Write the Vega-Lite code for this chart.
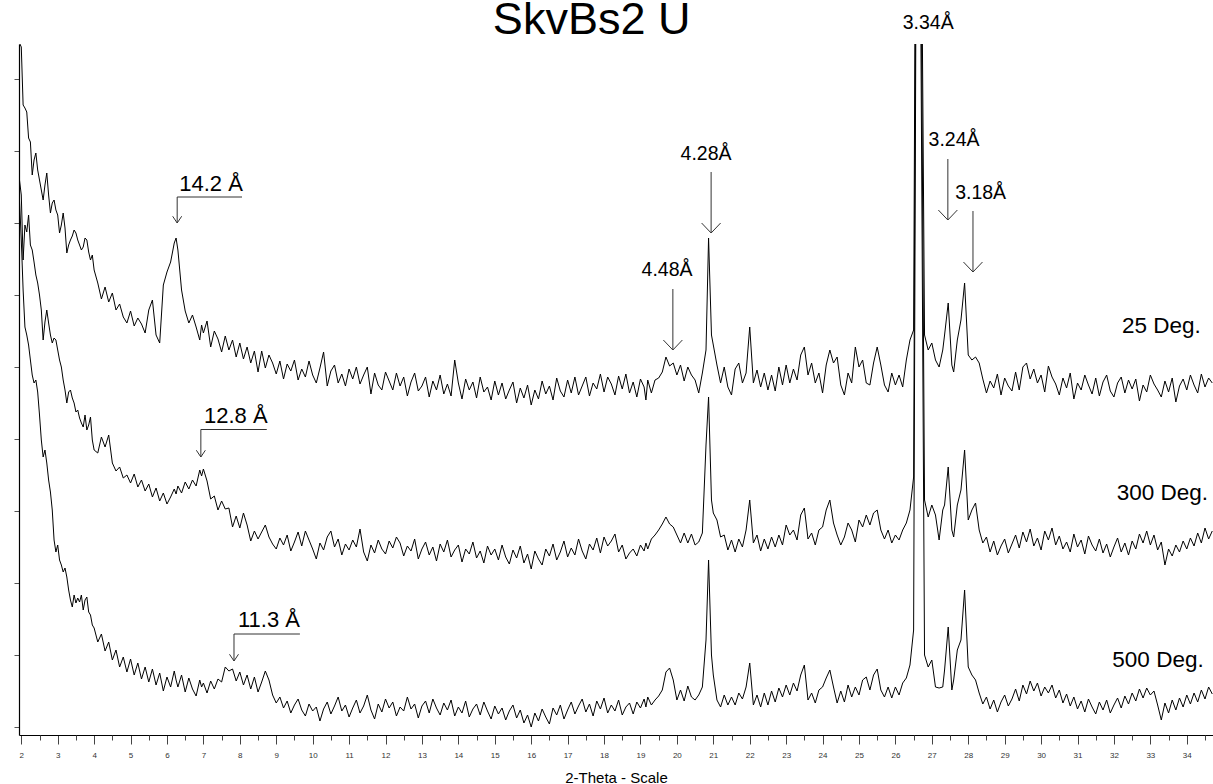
{
"$schema":"https://vega.github.io/schema/vega-lite/v6.json",
"width":1194,"height":691,"autosize":"none",
"padding":{"left":19,"top":44,"right":0,"bottom":49},
"background":"white",
"config":{"view":{"stroke":null},"font":"Liberation Sans"},
"datasets":{
"xrd":[
{"x":1.95,"a":692,"b":555,"c":535},{"x":2.0,"a":688,"b":540,"c":495},{"x":2.05,"a":630,"b":475,"c":445},{"x":2.1,"a":627,"b":510,"c":408},{"x":2.15,"a":623,"b":503,"c":400},{"x":2.2,"a":597,"b":520,"c":390},{"x":2.25,"a":593,"b":490,"c":375},{"x":2.3,"a":560,"b":485,"c":360},{"x":2.35,"a":575,"b":473,"c":352},{"x":2.4,"a":582,"b":460,"c":355},{"x":2.45,"a":565,"b":452,"c":343},{"x":2.5,"a":555,"b":440,"c":320},{"x":2.55,"a":545,"b":425,"c":295},{"x":2.6,"a":535,"b":395,"c":278},{"x":2.65,"a":550,"b":413,"c":285},{"x":2.7,"a":562,"b":425,"c":272},{"x":2.75,"a":540,"b":412,"c":255},{"x":2.8,"a":522,"b":400,"c":243},{"x":2.85,"a":532,"b":392,"c":225},{"x":2.9,"a":535,"b":397,"c":195},{"x":2.95,"a":525,"b":395,"c":183},{"x":3.0,"a":520,"b":385,"c":190},{"x":3.05,"a":502,"b":375,"c":175},{"x":3.1,"a":510,"b":368,"c":170},{"x":3.15,"a":522,"b":355,"c":163},{"x":3.2,"a":507,"b":345,"c":167},{"x":3.25,"a":482,"b":332,"c":158},{"x":3.3,"a":490,"b":343,"c":145},{"x":3.35,"a":495,"b":345,"c":135},{"x":3.4,"a":499,"b":337,"c":128},{"x":3.45,"a":505,"b":332,"c":140},{"x":3.5,"a":502,"b":323,"c":132},{"x":3.55,"a":495,"b":325,"c":137},{"x":3.6,"a":490,"b":317,"c":133},{"x":3.65,"a":485,"b":312,"c":140},{"x":3.7,"a":488,"b":308,"c":125},{"x":3.75,"a":497,"b":320,"c":135},{"x":3.8,"a":495,"b":305,"c":138},{"x":3.85,"a":483,"b":310,"c":123},{"x":3.9,"a":475,"b":318,"c":120},{"x":3.95,"a":480,"b":295,"c":110},
{"x":4.0,"a":465,"b":285,"c":107},{"x":4.1,"a":452,"b":282,"c":93},{"x":4.2,"a":436,"b":298,"c":101},{"x":4.3,"a":448,"b":288,"c":84},{"x":4.4,"a":433,"b":300,"c":93},{"x":4.5,"a":442,"b":272,"c":75},{"x":4.6,"a":425,"b":264,"c":85},{"x":4.7,"a":431,"b":268,"c":68},{"x":4.8,"a":418,"b":257,"c":78},{"x":4.9,"a":412,"b":260,"c":63},
{"x":5.0,"a":424,"b":252,"c":76},{"x":5.1,"a":409,"b":261,"c":60},{"x":5.2,"a":417,"b":248,"c":72},{"x":5.3,"a":411,"b":255,"c":56},{"x":5.4,"a":402,"b":244,"c":68},{"x":5.5,"a":425,"b":251,"c":53},{"x":5.6,"a":435,"b":238,"c":66},{"x":5.7,"a":400,"b":247,"c":50},{"x":5.8,"a":392,"b":234,"c":62},{"x":5.9,"a":450,"b":242,"c":44},
{"x":6.0,"a":463,"b":231,"c":58},{"x":6.1,"a":473,"b":238,"c":48},{"x":6.2,"a":492,"b":246,"c":64},{"x":6.25,"a":497,"b":241,"c":55},{"x":6.3,"a":485,"b":249,"c":48},{"x":6.4,"a":445,"b":242,"c":60},{"x":6.5,"a":424,"b":253,"c":43},{"x":6.6,"a":412,"b":246,"c":57},{"x":6.7,"a":420,"b":255,"c":46},{"x":6.8,"a":408,"b":249,"c":39},{"x":6.9,"a":395,"b":265,"c":55},{"x":6.95,"a":410,"b":259,"c":48},
{"x":7.0,"a":402,"b":266,"c":52},{"x":7.1,"a":414,"b":254,"c":42},{"x":7.2,"a":388,"b":236,"c":54},{"x":7.3,"a":404,"b":239,"c":46},{"x":7.4,"a":396,"b":225,"c":56},{"x":7.5,"a":383,"b":234,"c":53},{"x":7.6,"a":399,"b":226,"c":68},{"x":7.7,"a":385,"b":227,"c":64},{"x":7.8,"a":395,"b":208,"c":66},{"x":7.9,"a":378,"b":219,"c":54},
{"x":8.0,"a":392,"b":207,"c":63},{"x":8.1,"a":376,"b":222,"c":50},{"x":8.2,"a":388,"b":210,"c":60},{"x":8.3,"a":372,"b":194,"c":46},{"x":8.4,"a":384,"b":204,"c":58},{"x":8.5,"a":363,"b":196,"c":43},{"x":8.6,"a":384,"b":203,"c":53},{"x":8.7,"a":367,"b":210,"c":64},{"x":8.8,"a":380,"b":198,"c":55},{"x":8.9,"a":372,"b":191,"c":40},
{"x":9.0,"a":361,"b":186,"c":32},{"x":9.1,"a":374,"b":197,"c":38},{"x":9.2,"a":356,"b":190,"c":27},{"x":9.3,"a":371,"b":200,"c":34},{"x":9.4,"a":364,"b":184,"c":22},{"x":9.5,"a":375,"b":193,"c":30},{"x":9.6,"a":355,"b":203,"c":36},{"x":9.7,"a":366,"b":189,"c":25},{"x":9.8,"a":358,"b":204,"c":19},{"x":9.9,"a":374,"b":195,"c":31},
{"x":10.0,"a":360,"b":186,"c":24},{"x":10.1,"a":352,"b":176,"c":28},{"x":10.2,"a":367,"b":192,"c":14},{"x":10.3,"a":383,"b":185,"c":26},{"x":10.4,"a":349,"b":198,"c":33},{"x":10.5,"a":364,"b":204,"c":21},{"x":10.6,"a":370,"b":188,"c":29},{"x":10.7,"a":352,"b":196,"c":38},{"x":10.8,"a":361,"b":180,"c":24},{"x":10.9,"a":349,"b":191,"c":30},
{"x":11.0,"a":366,"b":185,"c":18},{"x":11.1,"a":356,"b":195,"c":27},{"x":11.2,"a":368,"b":188,"c":35},{"x":11.3,"a":351,"b":206,"c":22},{"x":11.4,"a":360,"b":183,"c":29},{"x":11.5,"a":368,"b":174,"c":40},{"x":11.6,"a":341,"b":190,"c":25},{"x":11.7,"a":362,"b":182,"c":16},{"x":11.8,"a":350,"b":195,"c":31},{"x":11.9,"a":345,"b":186,"c":23},
{"x":12.0,"a":363,"b":181,"c":36},{"x":12.1,"a":354,"b":194,"c":27},{"x":12.2,"a":345,"b":187,"c":33},{"x":12.3,"a":362,"b":198,"c":19},{"x":12.4,"a":349,"b":192,"c":28},{"x":12.5,"a":358,"b":179,"c":24},{"x":12.6,"a":339,"b":189,"c":38},{"x":12.7,"a":353,"b":184,"c":26},{"x":12.8,"a":362,"b":196,"c":31},{"x":12.9,"a":344,"b":176,"c":17},
{"x":13.0,"a":349,"b":186,"c":29},{"x":13.1,"a":358,"b":193,"c":34},{"x":13.2,"a":338,"b":180,"c":22},{"x":13.3,"a":354,"b":188,"c":36},{"x":13.4,"a":345,"b":174,"c":27},{"x":13.5,"a":360,"b":191,"c":20},{"x":13.6,"a":341,"b":183,"c":32},{"x":13.7,"a":351,"b":195,"c":25},{"x":13.8,"a":339,"b":178,"c":35},{"x":13.9,"a":375,"b":185,"c":19},
{"x":14.0,"a":352,"b":190,"c":28},{"x":14.1,"a":336,"b":173,"c":22},{"x":14.2,"a":356,"b":186,"c":34},{"x":14.3,"a":345,"b":181,"c":18},{"x":14.4,"a":353,"b":193,"c":26},{"x":14.5,"a":337,"b":177,"c":31},{"x":14.6,"a":358,"b":184,"c":20},{"x":14.7,"a":343,"b":172,"c":33},{"x":14.8,"a":348,"b":189,"c":24},{"x":14.9,"a":335,"b":180,"c":16},
{"x":15.0,"a":354,"b":186,"c":29},{"x":15.1,"a":340,"b":175,"c":21},{"x":15.2,"a":352,"b":190,"c":27},{"x":15.3,"a":336,"b":178,"c":15},{"x":15.4,"a":345,"b":171,"c":24},{"x":15.5,"a":353,"b":185,"c":30},{"x":15.6,"a":332,"b":177,"c":17},{"x":15.7,"a":347,"b":189,"c":25},{"x":15.8,"a":337,"b":172,"c":12},{"x":15.9,"a":350,"b":181,"c":20},
{"x":16.0,"a":330,"b":166,"c":8},{"x":16.1,"a":345,"b":184,"c":22},{"x":16.2,"a":336,"b":176,"c":14},{"x":16.3,"a":354,"b":170,"c":26},{"x":16.4,"a":341,"b":186,"c":18},{"x":16.5,"a":349,"b":179,"c":11},{"x":16.6,"a":335,"b":191,"c":27},{"x":16.7,"a":357,"b":175,"c":20},{"x":16.8,"a":344,"b":183,"c":30},{"x":16.9,"a":338,"b":194,"c":16},
{"x":17.0,"a":355,"b":178,"c":25},{"x":17.1,"a":342,"b":187,"c":33},{"x":17.2,"a":358,"b":180,"c":21},{"x":17.3,"a":340,"b":196,"c":29},{"x":17.4,"a":349,"b":184,"c":36},{"x":17.5,"a":358,"b":176,"c":23},{"x":17.6,"a":339,"b":191,"c":31},{"x":17.7,"a":352,"b":185,"c":19},{"x":17.8,"a":346,"b":197,"c":34},{"x":17.9,"a":361,"b":182,"c":26},
{"x":18.0,"a":343,"b":198,"c":37},{"x":18.1,"a":358,"b":189,"c":22},{"x":18.2,"a":351,"b":194,"c":30},{"x":18.3,"a":340,"b":201,"c":24},{"x":18.4,"a":359,"b":183,"c":35},{"x":18.5,"a":346,"b":190,"c":20},{"x":18.6,"a":361,"b":176,"c":28},{"x":18.7,"a":342,"b":182,"c":32},{"x":18.8,"a":353,"b":186,"c":21},{"x":18.9,"a":338,"b":179,"c":33},
{"x":19.0,"a":356,"b":190,"c":27},{"x":19.1,"a":348,"b":184,"c":36},{"x":19.15,"a":335,"b":192,"c":28},{"x":19.2,"a":355,"b":186,"c":38},{"x":19.3,"a":342,"b":196,"c":30},{"x":19.4,"a":355,"b":200,"c":35},{"x":19.5,"a":357,"b":205,"c":39},{"x":19.6,"a":363,"b":211,"c":45},{"x":19.7,"a":378,"b":218,"c":63},{"x":19.8,"a":369,"b":211,"c":67},{"x":19.9,"a":372,"b":208,"c":55},
{"x":20.0,"a":360,"b":200,"c":35},{"x":20.1,"a":370,"b":192,"c":45},{"x":20.2,"a":354,"b":202,"c":34},{"x":20.3,"a":368,"b":192,"c":49},{"x":20.4,"a":360,"b":201,"c":38},{"x":20.5,"a":355,"b":190,"c":35},{"x":20.6,"a":342,"b":193,"c":40},{"x":20.7,"a":362,"b":202,"c":48},{"x":20.8,"a":385,"b":290,"c":95},{"x":20.87,"a":497,"b":338,"c":175},{"x":20.95,"a":400,"b":235,"c":80},
{"x":21.0,"a":390,"b":222,"c":60},{"x":21.1,"a":370,"b":215,"c":35},{"x":21.2,"a":352,"b":198,"c":28},{"x":21.3,"a":368,"b":200,"c":40},{"x":21.4,"a":348,"b":185,"c":30},{"x":21.5,"a":340,"b":195,"c":38},{"x":21.6,"a":366,"b":183,"c":30},{"x":21.7,"a":372,"b":196,"c":42},{"x":21.8,"a":352,"b":188,"c":36},{"x":21.9,"a":362,"b":205,"c":48},
{"x":22.0,"a":408,"b":235,"c":72},{"x":22.1,"a":352,"b":192,"c":30},{"x":22.2,"a":365,"b":200,"c":40},{"x":22.3,"a":348,"b":184,"c":28},{"x":22.4,"a":362,"b":196,"c":42},{"x":22.5,"a":345,"b":186,"c":30},{"x":22.6,"a":360,"b":198,"c":44},{"x":22.7,"a":344,"b":188,"c":33},{"x":22.8,"a":368,"b":200,"c":47},{"x":22.9,"a":350,"b":190,"c":38},
{"x":23.0,"a":370,"b":210,"c":50},{"x":23.1,"a":352,"b":200,"c":40},{"x":23.2,"a":366,"b":205,"c":52},{"x":23.3,"a":355,"b":195,"c":44},{"x":23.4,"a":380,"b":220,"c":60},{"x":23.5,"a":388,"b":227,"c":70},{"x":23.6,"a":360,"b":196,"c":35},{"x":23.7,"a":372,"b":202,"c":42},{"x":23.8,"a":352,"b":190,"c":32},{"x":23.9,"a":362,"b":205,"c":45},
{"x":24.0,"a":342,"b":208,"c":48},{"x":24.1,"a":370,"b":225,"c":57},{"x":24.2,"a":385,"b":235,"c":65},{"x":24.3,"a":372,"b":212,"c":48},{"x":24.4,"a":378,"b":200,"c":32},{"x":24.5,"a":350,"b":190,"c":44},{"x":24.6,"a":340,"b":198,"c":33},{"x":24.7,"a":362,"b":212,"c":50},{"x":24.8,"a":352,"b":205,"c":38},{"x":24.9,"a":388,"b":193,"c":48},
{"x":25.0,"a":368,"b":215,"c":40},{"x":25.1,"a":375,"b":208,"c":55},{"x":25.2,"a":352,"b":220,"c":58},{"x":25.3,"a":350,"b":210,"c":45},{"x":25.4,"a":372,"b":222,"c":60},{"x":25.5,"a":388,"b":225,"c":66},{"x":25.6,"a":370,"b":205,"c":45},{"x":25.7,"a":350,"b":196,"c":38},{"x":25.8,"a":343,"b":205,"c":48},{"x":25.9,"a":362,"b":192,"c":37},
{"x":26.0,"a":350,"b":200,"c":48},{"x":26.1,"a":360,"b":195,"c":40},{"x":26.2,"a":348,"b":205,"c":52},{"x":26.3,"a":375,"b":212,"c":57},{"x":26.4,"a":395,"b":225,"c":70},{"x":26.5,"a":405,"b":258,"c":105},{"x":26.56,"a":900,"b":800,"c":700},{"x":26.63,"a":2500,"b":2500,"c":2500},{"x":26.7,"a":900,"b":800,"c":700},{"x":26.8,"a":400,"b":235,"c":80},{"x":26.9,"a":385,"b":218,"c":68},
{"x":27.0,"a":392,"b":230,"c":75},{"x":27.1,"a":375,"b":220,"c":48},{"x":27.2,"a":368,"b":195,"c":47},{"x":27.3,"a":385,"b":225,"c":48},{"x":27.35,"a":400,"b":230,"c":65},{"x":27.45,"a":432,"b":268,"c":108},{"x":27.55,"a":370,"b":205,"c":45},{"x":27.6,"a":363,"b":198,"c":55},{"x":27.7,"a":395,"b":230,"c":85},{"x":27.8,"a":415,"b":245,"c":95},{"x":27.9,"a":452,"b":285,"c":145},
{"x":28.0,"a":380,"b":215,"c":68},{"x":28.1,"a":375,"b":225,"c":60},{"x":28.2,"a":378,"b":232,"c":55},{"x":28.3,"a":372,"b":205,"c":42},{"x":28.4,"a":356,"b":192,"c":31},{"x":28.5,"a":342,"b":198,"c":38},{"x":28.6,"a":354,"b":183,"c":26},{"x":28.7,"a":347,"b":194,"c":35},{"x":28.8,"a":361,"b":180,"c":23},{"x":28.9,"a":340,"b":189,"c":33},
{"x":29.0,"a":357,"b":196,"c":40},{"x":29.1,"a":349,"b":182,"c":29},{"x":29.2,"a":344,"b":191,"c":36},{"x":29.3,"a":363,"b":200,"c":46},{"x":29.4,"a":345,"b":187,"c":34},{"x":29.5,"a":368,"b":203,"c":50},{"x":29.6,"a":372,"b":193,"c":41},{"x":29.7,"a":356,"b":206,"c":54},{"x":29.8,"a":366,"b":189,"c":44},{"x":29.9,"a":352,"b":197,"c":52},
{"x":30.0,"a":360,"b":185,"c":39},{"x":30.1,"a":343,"b":204,"c":48},{"x":30.2,"a":369,"b":195,"c":42},{"x":30.3,"a":358,"b":207,"c":50},{"x":30.4,"a":351,"b":190,"c":37},{"x":30.5,"a":340,"b":199,"c":45},{"x":30.6,"a":357,"b":186,"c":32},{"x":30.7,"a":347,"b":193,"c":41},{"x":30.8,"a":362,"b":183,"c":29},{"x":30.9,"a":336,"b":201,"c":38},
{"x":31.0,"a":352,"b":188,"c":26},{"x":31.1,"a":345,"b":195,"c":34},{"x":31.2,"a":360,"b":181,"c":23},{"x":31.3,"a":350,"b":199,"c":36},{"x":31.4,"a":341,"b":190,"c":28},{"x":31.5,"a":357,"b":184,"c":21},{"x":31.6,"a":339,"b":196,"c":33},{"x":31.7,"a":353,"b":182,"c":25},{"x":31.8,"a":360,"b":191,"c":35},{"x":31.9,"a":344,"b":178,"c":22},
{"x":32.0,"a":338,"b":188,"c":30},{"x":32.1,"a":352,"b":197,"c":37},{"x":32.2,"a":358,"b":183,"c":27},{"x":32.3,"a":342,"b":192,"c":39},{"x":32.4,"a":355,"b":180,"c":31},{"x":32.5,"a":346,"b":194,"c":42},{"x":32.6,"a":356,"b":186,"c":34},{"x":32.7,"a":334,"b":201,"c":46},{"x":32.8,"a":350,"b":192,"c":37},{"x":32.9,"a":343,"b":204,"c":47},
{"x":33.0,"a":360,"b":190,"c":40},{"x":33.1,"a":351,"b":200,"c":44},{"x":33.2,"a":345,"b":185,"c":30},{"x":33.3,"a":338,"b":193,"c":15},{"x":33.4,"a":354,"b":170,"c":32},{"x":33.5,"a":343,"b":186,"c":22},{"x":33.6,"a":357,"b":179,"c":35},{"x":33.7,"a":333,"b":190,"c":25},{"x":33.8,"a":349,"b":183,"c":37},{"x":33.9,"a":356,"b":194,"c":28},
{"x":34.0,"a":345,"b":186,"c":40},{"x":34.1,"a":360,"b":197,"c":31},{"x":34.2,"a":350,"b":189,"c":42},{"x":34.3,"a":342,"b":202,"c":33},{"x":34.4,"a":361,"b":192,"c":45},{"x":34.5,"a":348,"b":207,"c":36},{"x":34.6,"a":357,"b":196,"c":48},{"x":34.7,"a":352,"b":204,"c":41}
],
"labels":[
{"kind":"title","label":"SkvBs2 U","x":17.66,"y":701},
{"kind":"bracket","label":"14.2 Å","x":7.21,"y":551},
{"kind":"bracket","label":"12.8 Å","x":7.89,"y":319},
{"kind":"bracket","label":"11.3 Å","x":8.8,"y":115},
{"kind":"peak","label":"4.48Å","x":19.73,"y":465},
{"kind":"peak","label":"4.28Å","x":20.8,"y":581},
{"kind":"peak","label":"3.34Å","x":26.9,"y":712},
{"kind":"peak","label":"3.24Å","x":27.61,"y":595},
{"kind":"peak","label":"3.18Å","x":28.34,"y":542},
{"kind":"temp","label":"25 Deg.","x":33.3,"y":409},
{"kind":"temp","label":"300 Deg.","x":33.33,"y":242},
{"kind":"temp","label":"500 Deg.","x":33.21,"y":75}
],
"lines":[
{"x":6.28,"x2":8.06,"y":538,"y2":538},{"x":6.28,"x2":6.28,"y":538,"y2":512},
{"x":6.93,"x2":8.74,"y":305.5,"y2":305.5},{"x":6.93,"x2":6.93,"y":305.5,"y2":278},
{"x":7.84,"x2":9.65,"y":101,"y2":101},{"x":7.84,"x2":7.84,"y":101,"y2":74},
{"x":19.89,"x2":19.89,"y":446,"y2":385},
{"x":20.94,"x2":20.94,"y":563,"y2":502},
{"x":27.44,"x2":27.44,"y":576,"y2":515},
{"x":28.13,"x2":28.13,"y":524,"y2":463}
],
"heads":[
{"kind":"small","x":6.28,"y":512},{"kind":"small","x":6.93,"y":278},{"kind":"small","x":7.84,"y":74},
{"kind":"large","x":19.89,"y":385},{"kind":"large","x":20.94,"y":502},{"kind":"large","x":27.44,"y":515},{"kind":"large","x":28.13,"y":463}
]
},
"resolve":{"axis":{"x":"independent"}},
"layer":[
{"data":{"name":"xrd"},
 "transform":[{"fold":["a","b","c"],"as":["trace","v"]}],
 "mark":{"type":"line","color":"black","strokeWidth":1,"clip":true},
 "encoding":{
  "x":{"field":"x","type":"quantitative","scale":{"domain":[1.937,34.72],"nice":false,"zero":false},
   "axis":{"orient":"bottom","values":[2,3,4,5,6,7,8,9,10,11,12,13,14,15,16,17,18,19,20,21,22,23,24,25,26,27,28,29,30,31,32,33,34],
    "format":"d","tickSize":9,"tickColor":"#444","domainColor":"black","domainWidth":1.2,"grid":false,
    "labelFontSize":8,"labelColor":"#333","labelPadding":7,"labelFlush":false,"labelOverlap":false,"labelBound":false,
    "title":"2-Theta - Scale","titleFontSize":15,"titleFontWeight":"normal","titleColor":"black","titlePadding":11}},
  "y":{"field":"v","type":"quantitative","scale":{"domain":[0,691],"nice":false,"zero":false},
   "axis":{"values":[8,17,26,35,44,53,62,71,80,89,98,107,116,125,134,143,152,161,170,179,188,197,206,215,224,233,242,251,260,269,278,287,296,305,314,323,332,341,350,359,368,377,386,395,404,413,422,431,440,449,458,467,476,485,494,503,512,521,530,539,548,557,566,575,584,593,602,611,620,629,638,647,656,665,674,683],
    "labels":false,"title":null,"tickSize":5,"tickColor":"#555","domainColor":"black","domainWidth":1.2,"grid":false}},
  "detail":{"field":"trace"}
 }},
{"data":{"name":"lines"},
 "mark":{"type":"rule","color":"#333","strokeWidth":1},
 "encoding":{"x":{"field":"x","type":"quantitative","scale":{"domain":[1.937,34.72],"nice":false,"zero":false},
   "axis":{"orient":"bottom","values":[2.5,3.5,4.5,5.5,6.5,7.5,8.5,9.5,10.5,11.5,12.5,13.5,14.5,15.5,16.5,17.5,18.5,19.5,20.5,21.5,22.5,23.5,24.5,25.5,26.5,27.5,28.5,29.5,30.5,31.5,32.5,33.5,34.5],
    "labels":false,"domain":false,"grid":false,"tickSize":5,"tickColor":"#444","title":null}},
  "x2":{"field":"x2"},"y":{"field":"y","type":"quantitative"},"y2":{"field":"y2"}}},
{"data":{"name":"heads"},
 "transform":[{"filter":"datum.kind === 'small'"}],
 "mark":{"type":"point","shape":"M-1,-1.5L0,0L1,-1.5","size":81,"filled":false,"color":"#333","strokeWidth":1,"opacity":1},
 "encoding":{"x":{"field":"x","type":"quantitative","axis":null},"y":{"field":"y","type":"quantitative"}}},
{"data":{"name":"heads"},
 "transform":[{"filter":"datum.kind === 'large'"}],
 "mark":{"type":"point","shape":"M-1,-1.05L0,0L1,-1.05","size":361,"filled":false,"color":"#333","strokeWidth":1,"opacity":1},
 "encoding":{"x":{"field":"x","type":"quantitative","axis":null},"y":{"field":"y","type":"quantitative"}}},
{"data":{"name":"labels"},
 "transform":[{"filter":"datum.kind === 'title'"}],
 "mark":{"type":"text","fontSize":45,"font":"Liberation Sans","color":"black","baseline":"alphabetic","align":"center"},
 "encoding":{"x":{"field":"x","type":"quantitative","axis":null},"y":{"field":"y","type":"quantitative"},"text":{"field":"label"}}},
{"data":{"name":"labels"},
 "transform":[{"filter":"datum.kind === 'bracket'"}],
 "mark":{"type":"text","fontSize":22,"font":"Liberation Sans","color":"black","baseline":"middle","align":"center"},
 "encoding":{"x":{"field":"x","type":"quantitative","axis":null},"y":{"field":"y","type":"quantitative"},"text":{"field":"label"}}},
{"data":{"name":"labels"},
 "transform":[{"filter":"datum.kind === 'peak'"}],
 "mark":{"type":"text","fontSize":19.5,"font":"Liberation Sans","color":"black","baseline":"middle","align":"center"},
 "encoding":{"x":{"field":"x","type":"quantitative","axis":null},"y":{"field":"y","type":"quantitative"},"text":{"field":"label"}}},
{"data":{"name":"labels"},
 "transform":[{"filter":"datum.kind === 'temp'"}],
 "mark":{"type":"text","fontSize":22.5,"font":"Liberation Sans","color":"black","baseline":"middle","align":"center"},
 "encoding":{"x":{"field":"x","type":"quantitative","axis":null},"y":{"field":"y","type":"quantitative"},"text":{"field":"label"}}}
]
}
